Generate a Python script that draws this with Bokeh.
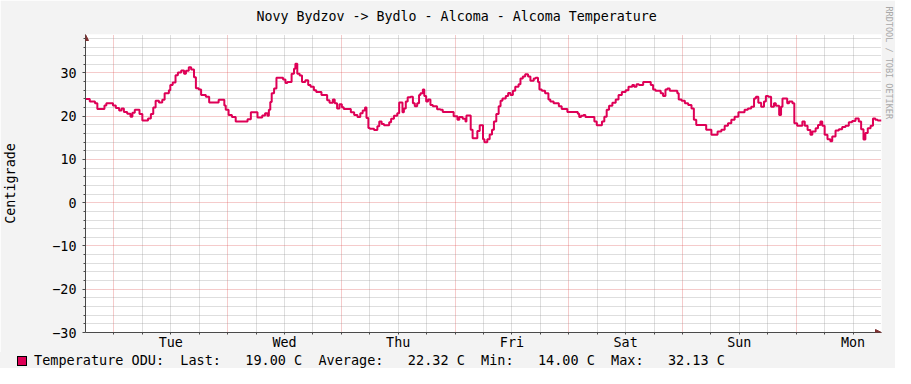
from bokeh.plotting import figure
from bokeh.layouts import column
from bokeh.models import (FixedTicker, Range1d, Arrow, NormalHead, ColumnDataSource, Title, Div)
from bokeh.embed import file_html
from bokeh.resources import INLINE

# ---- data (hours counted from Monday 00:00 of the first shown week) ----
hours = [18.0, 18.9, 20.0, 20.5, 22.0, 22.4, 23.8, 24.4, 25.1, 25.6, 26.1, 26.8, 27.5, 27.9,
         28.4, 29.4, 30.0, 31.2, 31.8, 32.3, 32.8, 33.5, 34.2, 34.7, 35.6, 35.9, 36.4, 37.0,
         37.5, 38.2, 38.8, 39.2, 39.8, 40.3, 40.9, 41.3, 41.9, 42.4, 43.4, 44.1, 46.1, 47.3,
         47.6,
         48.2, 48.9, 49.7, 52.2, 52.9, 54.3, 55.3, 55.9, 56.4, 56.7, 57.0, 57.3, 57.8, 58.3,
         59.7, 60.2, 60.6, 61.5, 62.0, 62.3, 62.7, 63.2, 63.7, 64.4, 65.0, 65.5, 66.2, 66.7,
         67.8, 69.0, 69.5, 70.2, 70.6, 71.1, 71.6, 72.1, 72.5,
         74.0, 74.7, 75.4, 76.0, 76.5, 77.0, 77.3, 77.7, 78.0, 78.9, 79.6, 80.0, 80.5, 81.0,
         82.1, 82.5, 83.1, 83.8, 84.2, 84.9, 85.2, 85.6, 86.0, 86.6, 87.1, 87.5, 88.0, 88.4,
         88.7, 89.2, 89.5, 89.9, 90.3, 90.8, 91.3, 92.2, 92.9, 93.4, 95.7,
         96.5, 96.9, 97.6, 98.2, 98.4, 99.3, 99.7, 100.7, 101.2, 101.9, 102.2, 102.8, 103.3,
         103.8, 104.2, 104.7, 105.2, 105.6, 106.0, 106.7, 107.2, 107.7, 108.2, 108.7, 109.4,
         109.8, 110.3, 110.8, 111.4, 111.9, 112.6, 113.0, 113.5, 113.8, 114.3, 115.0, 115.7,
         116.1, 116.8, 117.9, 118.5, 119.7,
         121.9, 122.2, 122.6, 123.1, 123.5, 125.4, 125.9, 127.0, 127.5, 128.0, 128.5, 129.2,
         129.9, 130.5, 131.2, 132.0, 132.6, 133.4, 133.8, 134.3, 134.8, 135.7, 137.3, 137.8,
         138.3, 139.4, 139.9, 140.4, 140.8, 141.3, 142.9, 143.2, 143.8,
         144.5, 145.2, 145.9, 146.4, 146.9, 149.0, 150.1, 151.4, 152.2, 152.9, 153.6, 154.3,
         155.0, 155.8, 157.1, 157.8, 158.5, 159.1, 159.5, 160.0, 160.6, 161.2, 161.6, 162.1,
         162.7, 163.3, 163.7, 164.4, 164.8, 165.1, 166.1, 166.5, 167.2, 167.6, 168.2, 169.3,
         169.8, 170.4, 171.0, 171.4, 172.1, 172.6, 173.1, 173.5, 174.0, 174.6, 175.2, 175.6,
         176.3, 177.0, 177.7, 178.4, 179.1, 179.8, 180.5, 181.2, 181.7, 182.2, 182.6, 183.1,
         183.7, 184.2, 184.7, 185.2, 186.0]
temps = [24.0, 23.4, 23.0, 21.7, 22.5, 23.0, 22.5, 21.9, 21.3, 21.8, 21.0, 20.6, 19.9, 20.8,
         21.5, 20.5, 19.0, 19.5, 20.5, 22.0, 23.6, 23.2, 23.8, 25.3, 26.0, 27.2, 27.8, 29.5,
         30.1, 30.6, 29.8, 30.5, 31.3, 30.8, 29.0, 26.5, 26.2, 24.9, 24.5, 23.2, 23.8, 22.5,
         21.5,
         20.3, 19.8, 18.8, 19.3, 20.9, 19.7, 20.2, 20.7, 20.1, 21.5, 23.3, 25.3, 26.4, 28.9,
         28.5, 27.7, 27.9, 29.8, 31.0, 32.13, 29.8, 29.4, 27.9, 28.3, 27.2, 26.8, 26.0, 25.6,
         24.9, 23.7, 23.1, 23.9, 23.0, 21.8, 22.8, 22.1, 21.7,
         20.9, 20.3, 19.8, 20.7, 21.3, 22.0, 19.6, 17.3, 17.1, 16.8, 17.7, 18.8, 18.2, 17.9,
         18.6, 19.4, 20.1, 20.7, 23.2, 20.9, 21.8, 23.4, 24.4, 24.5, 23.0, 22.3, 23.0, 24.9,
         25.3, 26.2, 24.7, 23.4, 23.9, 22.6, 22.3, 21.6, 21.5, 21.0, 20.0,
         19.2, 19.8, 19.4, 18.8, 20.2, 16.9, 14.9, 16.6, 17.9, 14.7, 14.0, 14.7, 15.8,
         16.9, 18.8, 20.5, 22.3, 23.6, 24.1, 24.7, 25.4, 24.9, 25.9, 26.8, 27.4,
         28.7, 29.2, 29.7, 29.2, 28.2, 28.7, 28.9, 27.9, 26.2, 25.9, 25.3, 23.9,
         23.4, 23.0, 22.3, 21.7, 21.0,
         20.6, 19.8, 20.1, 20.3, 19.8, 18.8, 17.9, 18.8, 19.9, 21.5, 22.4, 23.1,
         23.9, 24.9, 25.6, 26.0, 26.8, 27.2, 26.8, 27.4, 27.2, 27.9, 27.2, 26.2,
         25.9, 25.3, 24.7, 26.2, 26.4, 25.9, 25.3, 23.9, 23.6,
         23.0, 22.6, 21.8, 19.2, 18.0, 16.9, 15.7, 16.5, 16.9, 17.8, 18.4, 19.2,
         19.9, 20.9, 21.5, 21.8, 22.2, 24.1, 24.5, 23.1, 22.2, 23.4, 24.7, 24.5,
         22.2, 23.0, 22.4, 20.3, 22.2, 24.1, 23.0, 23.4, 23.0, 18.4, 17.8, 18.8,
         17.8, 16.8, 15.7, 16.5, 17.2, 18.0, 18.8, 17.8, 15.7, 14.7, 14.2, 15.3,
         16.7, 17.0, 17.5, 17.8, 18.6, 18.9, 19.5, 18.8, 17.0, 14.6, 16.1, 17.2,
         17.8, 19.5, 19.2, 19.0, 19.0]

day_labels = ["Tue", "Wed", "Thu", "Fri", "Sat", "Sun", "Mon"]
day_noons = [36, 60, 84, 108, 132, 156, 180]
midnights = [24, 48, 72, 96, 120, 144, 168]
y_major = [-30, -20, -10, 0, 10, 20, 30]
y_minor = [v for v in range(-28, 39, 2) if v % 10 != 0]
x_minor = [h for h in range(24, 186, 6)]
x_grid_minor = [h for h in range(24, 186, 6) if h % 24 != 0]

title_text = "Novy Bydzov -> Bydlo - Alcoma - Alcoma Temperature"
y_title = "Centigrade"
watermark = "RRDTOOL / TOBI OETIKER"
series_name = "Temperature ODU:"
stat_last, stat_avg, stat_min, stat_max = 19.00, 22.32, 14.00, 32.13

LINE = "#DE0056"
MONO = "DejaVu Sans Mono"
BACK = "#F3F3F3"
X0, X1, Y0, Y1 = 18, 186, -30, 38.9

p = figure(width=895, height=352, x_range=Range1d(X0, X1), y_range=Range1d(Y0, Y1),
           output_backend="svg", toolbar_location=None,
           min_border_left=81, min_border_right=14, min_border_top=34, min_border_bottom=16,
           background_fill_color="white", border_fill_color=BACK, outline_line_color=None)

src = ColumnDataSource(dict(h=hours, t=temps))
p.step(x="h", y="t", source=src, mode="after", line_color=LINE, line_width=2)

# grids
p.xgrid.ticker = FixedTicker(ticks=midnights, minor_ticks=x_grid_minor)
p.ygrid.ticker = FixedTicker(ticks=[v for v in y_major if v != Y0], minor_ticks=y_minor)
for g in (p.xgrid, p.ygrid):
    g.grid_line_color = "#DE5050"
    g.grid_line_alpha = 0.6
    g.grid_line_dash = "1 1"
    g.minor_grid_line_color = "#8F8F8F"
    g.minor_grid_line_alpha = 0.6
    g.minor_grid_line_dash = "1 1"

# axes
AX = "#4A4A4A"
p.xaxis.ticker = FixedTicker(ticks=day_noons, minor_ticks=x_minor)
p.xaxis.major_label_overrides = {h: d for h, d in zip(day_noons, day_labels)}
p.xaxis.major_tick_line_color = None
p.xaxis.major_tick_out = 0
p.xaxis.major_tick_in = 0
p.xaxis.minor_tick_out = 2
p.xaxis.minor_tick_in = 0
p.xaxis.major_label_standoff = 0
p.yaxis.ticker = FixedTicker(ticks=y_major, minor_ticks=y_minor)
p.yaxis.major_tick_out = 3
p.yaxis.major_tick_in = 0
p.yaxis.minor_tick_out = 2
p.yaxis.minor_tick_in = 0
p.yaxis.major_label_standoff = 6
p.yaxis.major_tick_line_color = AX
p.yaxis.axis_label = y_title
p.yaxis.axis_label_standoff = 31
p.yaxis.axis_label_text_font = MONO
p.yaxis.axis_label_text_font_size = "13.4px"
p.yaxis.axis_label_text_font_style = "normal"
p.yaxis.axis_label_text_color = "black"
for ax in (p.xaxis, p.yaxis):
    ax.axis_line_color = AX
    ax.minor_tick_line_color = AX
    ax.major_label_text_font = MONO
    ax.major_label_text_font_size = "13.4px"
    ax.major_label_text_color = "black"

# arrows at axis ends
ARROW = "#7F3131"
p.add_layout(Arrow(end=NormalHead(size=6, fill_color=ARROW, line_color=ARROW, line_width=1),
                   x_start=X0, y_start=Y1 - 1, x_end=X0, y_end=Y1, line_alpha=0))
p.add_layout(Arrow(end=NormalHead(size=6, fill_color=ARROW, line_color=ARROW, line_width=1),
                   x_start=X1 - 1.5, y_start=Y0, x_end=X1, y_end=Y0, line_alpha=0))

# title
p.title.text = title_text
p.title.text_font = MONO
p.title.text_font_size = "13.3px"
p.title.text_font_style = "normal"
p.title.text_color = "black"
p.title.align = "left"
p.title.offset = 171
p.title.vertical_align = "top"
p.title.standoff = 17

# watermark on the right
p.add_layout(Title(text=watermark, align="left", offset=-28, standoff=0,
                   vertical_align="top",
                   text_font=MONO, text_font_size="8.5px", text_font_style="normal",
                   text_color="#A8A8A8"), "right")

# legend row below the plot
legend_text = (f"{series_name}  Last:   {stat_last:.2f} C  Average:   {stat_avg:.2f} C  "
               f"Min:   {stat_min:.2f} C  Max:   {stat_max:.2f} C")
swatch = (f'<span style="display:inline-block;box-sizing:border-box;width:10px;height:10px;'
          f'background:{LINE};border:1px solid #000;vertical-align:-1px;margin-left:17px;'
          f'margin-right:7px"></span>')
legend_div = Div(
    text=(f'<div style="font-family:\'{MONO}\';font-size:13.5px;line-height:16px;'
          f'white-space:pre;color:#000;margin:0;padding:0">{swatch}{legend_text}</div>'),
    width=895, height=16, margin=(0, 0, 0, 0),
    styles={"background-color": BACK, "overflow": "hidden"})

layout = column(p, legend_div, spacing=0)
open("out.html", "w").write(file_html(layout, INLINE))
